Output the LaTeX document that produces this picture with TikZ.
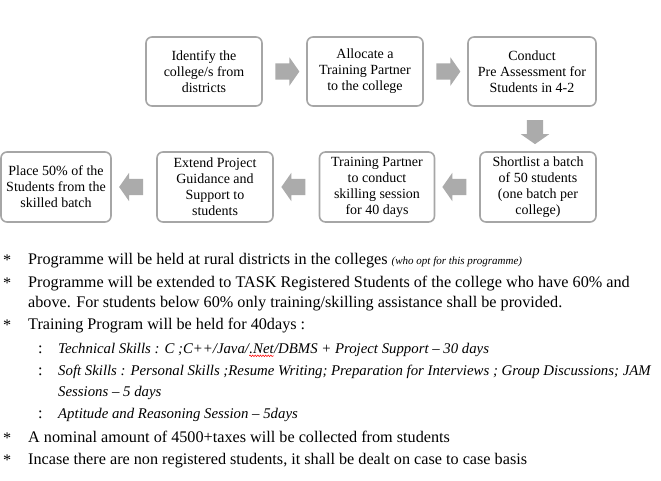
\documentclass[tikz,border=0pt]{standalone}
\usepackage{fontspec}
\setmainfont{Liberation Serif}
\usetikzlibrary{shapes.arrows,calc,decorations.pathmorphing}
\definecolor{boxgray}{HTML}{A6A6A6}
\definecolor{arrgray}{HTML}{ABABAB}
\begin{document}
\begin{tikzpicture}[x=1pt,y=-1pt,
  stepbox/.style={draw=boxgray,line width=1.6pt,rounded corners=6pt,fill=white,
    align=center,inner sep=1pt,font=\fontsize{14}{16}\selectfont},
  blockarr/.style={single arrow,fill=arrgray,draw=none,inner sep=0pt,outer sep=0pt,
    minimum height=24pt,single arrow head extend=6pt,
    single arrow tip angle=110},
  txt/.style={anchor=base west,inner sep=0pt,font=\fontsize{16.2}{19}\selectfont},
  sub/.style={anchor=base west,inner sep=0pt,font=\fontsize{14.8}{19}\selectfont\itshape},
  squiggle/.style={draw=red,line width=0.5pt,decorate,
    decoration={snake,amplitude=0.8pt,segment length=2.6pt}}]
\useasboundingbox (0,0) rectangle (661,480);
\newcommand{\shaft}{\rule{0pt}{16pt}}
% boxes
\node[stepbox,minimum width=116pt,minimum height=69pt] (b1) at (204,71.5) {Identify the\\college/s from\\districts};
\node[stepbox,minimum width=116pt,minimum height=69pt] (b2) at (365,71.5) {Allocate a\\Training Partner\\to the college};
\node[stepbox,minimum width=128pt,minimum height=69pt] (b3) at (532,71.5) {Conduct\\Pre Assessment for\\Students in 4-2};
\node[stepbox,minimum width=116pt,minimum height=70pt] (b4) at (538,187) {Shortlist a batch\\of 50 students\\(one batch per\\college)};
\node[stepbox,minimum width=115pt,minimum height=70pt] (b5) at (377,187) {Training Partner\\to conduct\\skilling session\\for 40 days};
\node[stepbox,minimum width=116pt,minimum height=70pt] (b6) at (215,187) {Extend Project\\Guidance and\\Support to\\students};
\node[stepbox,minimum width=110pt,minimum height=70pt] (b7) at (56,187) {Place 50\% of the\\Students from the\\skilled batch};
% block arrows
\node[blockarr] (a12) at ($(b1.east)!0.5!(b2.west)$) {\shaft};
\node[blockarr] (a23) at ($(b2.east)!0.5!(b3.west)$) {\shaft};
\node[blockarr,rotate=-90] (a34) at ($(b3.center)!0.5!(b4.center)$) {\shaft};
\node[blockarr,rotate=180] (a45) at ($(b4.west)!0.5!(b5.east)$) {\shaft};
\node[blockarr,rotate=180] (a56) at ($(b5.west)!0.5!(b6.east)$) {\shaft};
\node[blockarr,rotate=180] (a67) at ($(b6.west)!0.5!(b7.east)$) {\shaft};
% bullets
\node[txt] (s1) at (3,265) {*};
\node[txt] (l1) at (28,264) {Programme will be held at rural districts in the colleges {\fontsize{11}{11}\selectfont\itshape (who opt for this programme)}};
\node[txt] (s2) at (3,288) {*};
\node[txt] (l2) at (28,287) {Programme will be extended to TASK Registered Students of the college who have 60\% and};
\node[txt] (l3) at (28,307) {above. For students below 60\% only training/skilling assistance shall be provided.};
\node[txt] (s3) at (3,330) {*};
\node[txt] (l4) at (28,329) {Training Program will be held for 40days :};
\node[txt] (c1) at (38,353) {:};
\node[sub] (l5a) at (58,353) {Technical Skills : C ;C++/Java/};
\node[sub] (l5b) at (l5a.base east) {.Net};
\node[sub] (l5c) at (l5b.base east) {/DBMS + Project Support – 30 days};
\draw[squiggle] ($(l5b.base west)+(0,2.8)$) -- ($(l5b.base east)+(0,2.8)$);
\node[txt] (c2) at (38,375) {:};
\node[sub] (l6) at (58,375) {Soft Skills : Personal Skills ;Resume Writing; Preparation for Interviews ; Group Discussions; JAM};
\node[sub] (l7) at (58,396) {Sessions – 5 days};
\node[txt] (c3) at (38,418) {:};
\node[sub] (l8) at (58,418) {Aptitude and Reasoning Session – 5days};
\node[txt] (s4) at (3,443) {*};
\node[txt] (l9) at (28,442) {A nominal amount of 4500+taxes will be collected from students};
\node[txt] (s5) at (3,465) {*};
\node[txt] (l10) at (28,464) {Incase there are non registered students, it shall be dealt on case to case basis};
\end{tikzpicture}
\end{document}
